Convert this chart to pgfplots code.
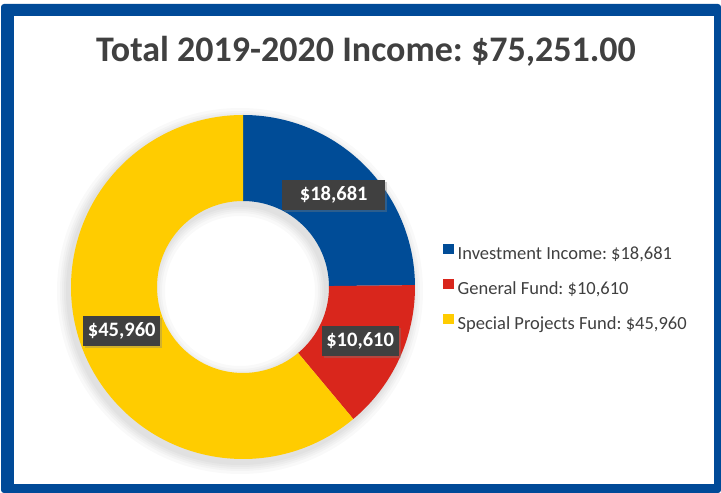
\documentclass[border=0pt]{standalone}
\usepackage{pgfplots}
\pgfplotsset{compat=1.18}
\usepackage{pgfplotstable}
\usetikzlibrary{calc,shadows}
\usepackage{fontspec}
\setmainfont{Carlito}
\frenchspacing

\definecolor{invblue}{HTML}{004C97}
\definecolor{genred}{HTML}{D9261C}
\definecolor{spyellow}{HTML}{FFCC00}
\definecolor{frameblue}{HTML}{004A98}
\definecolor{txtgray}{HTML}{404040}
\definecolor{boxgray}{HTML}{404040}

\pgfplotstableread{
name value
{Investment Income} 18681
{General Fund} 10610
{Special Projects Fund} 45960
}\income

\pgfplotstablegetelem{0}{value}\of\income \let\vA\pgfplotsretval
\pgfplotstablegetelem{1}{value}\of\income \let\vB\pgfplotsretval
\pgfplotstablegetelem{2}{value}\of\income \let\vC\pgfplotsretval
\pgfplotstablegetelem{0}{name}\of\income \let\nA\pgfplotsretval
\pgfplotstablegetelem{1}{name}\of\income \let\nB\pgfplotsretval
\pgfplotstablegetelem{2}{name}\of\income \let\nC\pgfplotsretval

% slice angles, clockwise from the top
\edef\total{\fpeval{\vA+\vB+\vC}}
\edef\aA{90}
\edef\aB{\fpeval{round(90-360*\vA/\total,3)}}
\edef\aC{\fpeval{round(\aB-360*\vB/\total,3)}}
\edef\aD{\fpeval{round(\aC-360*\vC/\total,3)}}
\edef\mA{\fpeval{(\aA+\aB)/2}}
\edef\mB{\fpeval{(\aB+\aC)/2}}
\edef\mC{\fpeval{(\aC+\aD)/2}}

\pgfkeys{/pgf/number format/.cd, 1000 sep={,}, assume math mode=true}

\tikzset{
  labelbox/.style={fill=boxgray, text=white, font=\fontsize{20.5}{23}\selectfont\bfseries,
    minimum height=30pt, minimum width=77pt, inner xsep=4pt,
    drop shadow={shadow xshift=2pt, shadow yshift=-2pt, opacity=0.35}},
  ring/.style={black, opacity=0.025, even odd rule},
}

\begin{document}
\begin{tikzpicture}
\begin{axis}[
  x=1pt, y=1pt,
  xmin=0, xmax=721, ymin=0, ymax=493,
  hide axis, clip=false,
  legend image code/.code={\fill[#1] (0pt,0.5pt) rectangle (10.5pt,11pt);},
  legend cell align=left,
  legend style={at={(axis cs:443,249.3)}, anchor=north west, draw=none, fill=none,
    inner sep=0pt, font=\fontsize{18.5}{22}\selectfont, text=txtgray,
    row sep=15.5pt, column sep=4pt,
    nodes={inner sep=0pt, text height=13pt, text depth=4pt}},
]
\path (axis cs:0,0) rectangle (axis cs:721,493);
% frame
\fill[frameblue, rounded corners=3pt] (axis cs:1,0) rectangle (axis cs:721,489);
\fill[white] (axis cs:14,9) rectangle (axis cs:714,477);

\coordinate (C) at (axis cs:243,206);
\coordinate (S) at (axis cs:240,202);

% soft shadow
\fill[ring] (S) circle[radius=183pt] (S) circle[radius=75pt];
\fill[ring] (S) circle[radius=180pt] (S) circle[radius=78pt];
\fill[ring] (S) circle[radius=178pt] (S) circle[radius=80pt];
\fill[ring] (S) circle[radius=176pt] (S) circle[radius=82pt];
\fill[ring] (S) circle[radius=174pt] (S) circle[radius=84pt];

% slices
\fill[invblue] ($(C)+(\aA:172pt)$) arc[start angle=\aA, end angle=\aB, radius=172pt]
  -- ($(C)+(\aB:86pt)$) arc[start angle=\aB, end angle=\aA, radius=86pt] -- cycle;
\fill[genred] ($(C)+(\aB:172pt)$) arc[start angle=\aB, end angle=\aC, radius=172pt]
  -- ($(C)+(\aC:86pt)$) arc[start angle=\aC, end angle=\aB, radius=86pt] -- cycle;
\fill[spyellow] ($(C)+(\aC:172pt)$) arc[start angle=\aC, end angle=\aD, radius=172pt]
  -- ($(C)+(\aD:86pt)$) arc[start angle=\aD, end angle=\aC, radius=86pt] -- cycle;

% data labels
\node[labelbox, minimum width=103pt] at ($(C)+(\mA:129pt)$) {\$\pgfmathprintnumber{\vA}};
\node[labelbox] at ($(C)+(\mB:129pt)$) {\$\pgfmathprintnumber{\vB}};
\node[labelbox] at ($(C)+(\mC:129pt)$) {\$\pgfmathprintnumber{\vC}};

% title
\node[anchor=base, text=txtgray, font=\fontsize{36}{42}\selectfont\bfseries]
  at (axis cs:366,431)
  {Total 2019-2020 Income: \$\pgfmathprintnumber[fixed, fixed zerofill, precision=2]{\total}};

\addlegendimage{fill=invblue, draw=none}
\addlegendentry{\nA: \$\pgfmathprintnumber{\vA}}
\addlegendimage{fill=genred, draw=none}
\addlegendentry{\nB: \$\pgfmathprintnumber{\vB}}
\addlegendimage{fill=spyellow, draw=none}
\addlegendentry{\nC: \$\pgfmathprintnumber{\vC}}
\end{axis}
\end{tikzpicture}
\end{document}
